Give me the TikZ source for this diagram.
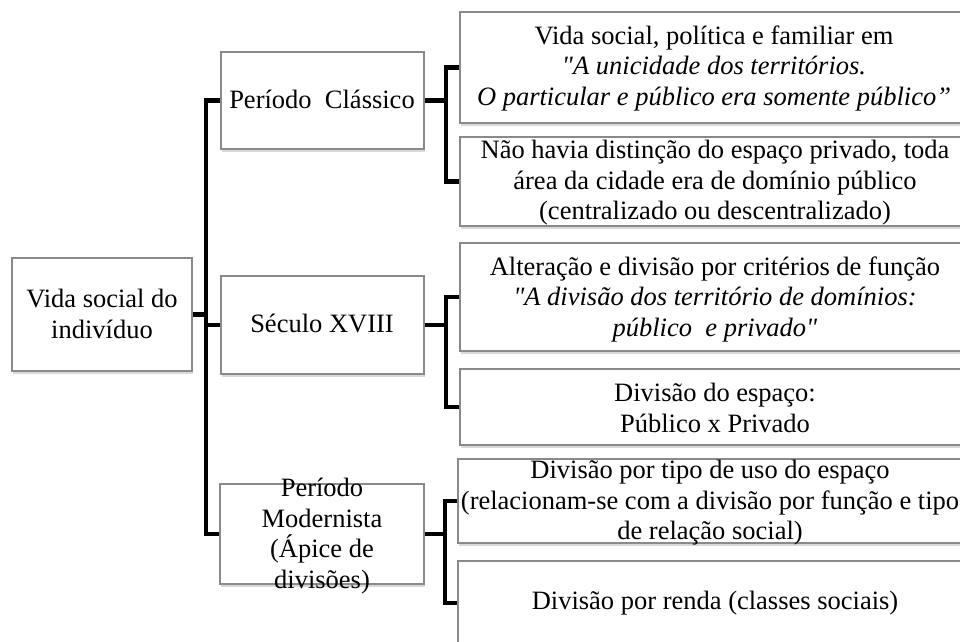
\documentclass[tikz,border=0pt]{standalone}
\usepackage{fontspec}
\setmainfont{Liberation Serif}
\newfontfamily\tnr{Liberation Serif}
\usetikzlibrary{shadows}
\definecolor{boxgray}{HTML}{8A8A8A}
\begin{document}
\begin{tikzpicture}[x=1pt,y=-1pt,
  box/.style={draw=boxgray, line width=1.2pt, fill=white, inner sep=0pt,
    drop shadow={shadow xshift=0.8pt, shadow yshift=-2.5pt, opacity=0.3}},
  txt/.style={align=center, inner sep=0pt, font=\tnr\fontsize{26.5}{30.5}\selectfont},
  conn/.style={line width=4.5pt, black, line join=miter}]
\useasboundingbox (0,0) rectangle (960,641);

% boxes
\node[box, minimum width=180pt, minimum height=113pt] (root) at (102,314.5) {};
\node[box, minimum width=203pt, minimum height=97pt] (c1) at (322.5,100.5) {};
\node[box, minimum width=203pt, minimum height=98pt] (c2) at (322.5,325) {};
\node[box, minimum width=204pt, minimum height=100pt] (c3) at (322,534) {};
\node[box, minimum width=512pt, minimum height=111pt] (b1) at (716,67.5) {};
\node[box, minimum width=512pt, minimum height=89pt] (b2) at (716,181.5) {};
\node[box, minimum width=512pt, minimum height=108pt] (b3) at (716,297) {};
\node[box, minimum width=512pt, minimum height=76pt] (b4) at (716,407) {};
\node[box, minimum width=514pt, minimum height=84pt] (b5) at (715,501) {};
\node[box, minimum width=514pt, minimum height=84pt] (b6) at (715,603) {};

% texts
\node[txt] (troot) at (102,314) {Vida social do\\indivíduo};
\node[txt] (tc1) at (322,99) {Período \ Clássico};
\node[txt] (tc2) at (322,323) {Século XVIII};
\node[txt] (tc3) at (322,536) {Período\\Modernista\\(Ápice de\\divisões)};
\node[txt] (tb1) at (714,68) {Vida social, política e familiar em\\\textit{"A unicidade dos territórios.}\\\textit{O particular e público era somente público”}};
\node[txt] (tb2) at (715,183) {Não havia distinção do espaço privado, toda\\área da cidade era de domínio público\\(centralizado ou descentralizado)};
\node[txt] (tb3) at (715,299) {Alteração e divisão por critérios de função\\\textit{"A divisão dos território de domínios:}\\\textit{público \ e privado"}};
\node[txt] (tb4) at (715,408) {Divisão do espaço:\\Público x Privado};
\node[txt] (tb5) at (710,503) {Divisão por tipo de uso do espaço\\(relacionam-se com a divisão por função e tipo\\de relação social)};
\node[txt] (tb6) at (715,603) {Divisão por renda (classes sociais)};

% connectors
\coordinate (tx) at (206,0);
\coordinate (bx1) at (446,0);
\coordinate (bx2) at (446,0);
\coordinate (bx3) at (445,0);

\draw[conn] (c1.west) -- (c1.west -| tx) -- (c3.west -| tx) -- (c3.west);
\draw[conn] (c2.west) -- (c2.west -| tx);
\draw[conn] (root.east) -- (root.east -| tx);

\draw[conn] (b1.west) -- (b1.west -| bx1) -- (b2.west -| bx1) -- (b2.west);
\draw[conn] (c1.east) -- (c1.east -| bx1);

\draw[conn] (b3.west) -- (b3.west -| bx2) -- (b4.west -| bx2) -- (b4.west);
\draw[conn] (c2.east) -- (c2.east -| bx2);

\draw[conn] (b5.west) -- (b5.west -| bx3) -- (b6.west -| bx3) -- (b6.west);
\draw[conn] (c3.east) -- (c3.east -| bx3);
\end{tikzpicture}
\end{document}
